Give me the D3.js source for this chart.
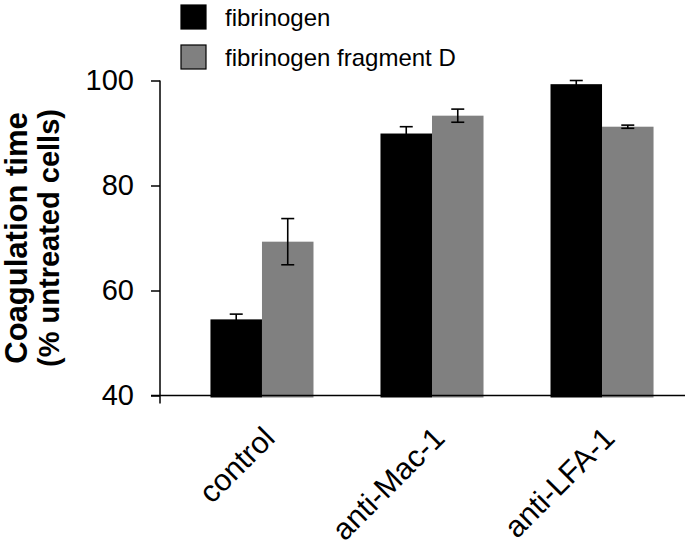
<!DOCTYPE html>
<html>
<head>
<meta charset="utf-8">
<script src="https://d3js.org/d3.v7.min.js"></script>
<style>
  body { margin: 0; background: #fff; }
  svg { display: block; font-family: "Liberation Sans", Arial, sans-serif; }
</style>
</head>
<body>
<svg id="chart" width="685" height="549"></svg>
<script>
  // data
  const categories = ['control', 'anti-Mac-1', 'anti-LFA-1'];
  const seriesNames = ['fibrinogen', 'fibrinogen fragment D'];
  const fibrinogen = [54.5, 89.9, 99.3];
  const fibrinogenErr = [1.0, 1.3, 0.7];
  const fragmentD = [69.3, 93.3, 91.2];
  const fragmentDErr = [4.4, 1.25, 0.3];
  const yTicks = [40, 60, 80, 100];

  const colors = ['#000000', '#808080'];

  const svg = d3.select('#chart');

  const x0 = d3.scaleBand()
    .domain(categories)
    .range([162, 702])
    .paddingInner(0.394)
    .paddingOuter(0.285);

  const x1 = d3.scaleBand()
    .domain(seriesNames)
    .range([0, x0.bandwidth()]);

  const y = d3.scaleLinear()
    .domain([40, 100])
    .range([395.5, 80.5]);

  const axisX = 160;

  const rows = categories.map((c, i) => [
    { cat: c, s: seriesNames[0], v: fibrinogen[i], e: fibrinogenErr[i], color: colors[0] },
    { cat: c, s: seriesNames[1], v: fragmentD[i], e: fragmentDErr[i], color: colors[1] }
  ]).flat();

  // bars
  svg.append('g').selectAll('rect')
    .data(rows)
    .enter().append('rect')
    .attr('x', d => x0(d.cat) + x1(d.s))
    .attr('y', d => y(d.v))
    .attr('width', x1.bandwidth())
    .attr('height', d => y(40) - y(d.v) + 2)
    .attr('fill', d => d.color);

  // error bars
  const err = svg.append('g')
    .attr('stroke', '#000')
    .attr('stroke-width', 1.6);
  rows.forEach(d => {
    const cx = x0(d.cat) + x1(d.s) + x1.bandwidth() / 2;
    const capW = 6.5;
    err.append('line')
      .attr('x1', cx).attr('x2', cx)
      .attr('y1', y(d.v + d.e)).attr('y2', y(d.v - d.e));
    [d.v + d.e, d.v - d.e].forEach(v => {
      err.append('line')
        .attr('x1', cx - capW).attr('x2', cx + capW)
        .attr('y1', y(v)).attr('y2', y(v));
    });
  });

  // y axis
  const yAxis = svg.append('g')
    .attr('transform', `translate(${axisX},0)`)
    .call(d3.axisLeft(y).tickValues(yTicks).tickSize(9).tickPadding(17).tickSizeOuter(0));
  yAxis.select('.domain').remove();
  yAxis.selectAll('.tick line').attr('stroke', '#000').attr('stroke-width', 1.5);
  yAxis.selectAll('.tick text')
    .attr('font-size', 29)
    .attr('font-family', '"Liberation Sans", Arial, sans-serif')
    .attr('fill', '#000');

  svg.append('line')
    .attr('x1', axisX).attr('x2', axisX)
    .attr('y1', y(100)).attr('y2', y(40) + 8)
    .attr('stroke', '#000').attr('stroke-width', 1.5);

  // baseline
  svg.append('line')
    .attr('x1', axisX - 9).attr('x2', 685)
    .attr('y1', y(40)).attr('y2', y(40))
    .attr('stroke', '#000').attr('stroke-width', 1.5);

  // category labels
  svg.append('g').selectAll('text')
    .data(categories)
    .enter().append('text')
    .attr('transform', d => `translate(${x0(d) + x0.bandwidth() / 2 - 1},${y(40) + 29}) rotate(-45)`)
    .attr('text-anchor', 'end')
    .attr('dy', '0.72em')
    .attr('font-size', 30.5)
    .attr('fill', '#000')
    .text(d => d);

  // y title
  const title = svg.append('text')
    .attr('transform', `translate(27,${(y(40) + y(100)) / 2}) rotate(-90)`)
    .attr('text-anchor', 'middle')
    .attr('font-weight', 'bold')
    .attr('fill', '#000');
  title.append('tspan').attr('x', 0).attr('y', 0).attr('font-size', 31).text('Coagulation time');
  title.append('tspan').attr('x', 0).attr('y', 32).attr('font-size', 29).text('(% untreated cells)');

  // legend
  const legend = svg.append('g').selectAll('g')
    .data(seriesNames)
    .enter().append('g')
    .attr('transform', (d, i) => `translate(181,${5 + i * 40})`);
  legend.append('rect')
    .attr('width', 25).attr('height', 24)
    .attr('fill', (d, i) => colors[i])
    .attr('stroke', '#000').attr('stroke-width', 1.2);
  legend.append('text')
    .attr('x', 44).attr('y', 21)
    .attr('font-size', 24)
    .attr('fill', '#000')
    .text(d => d);
</script>
</body>
</html>
